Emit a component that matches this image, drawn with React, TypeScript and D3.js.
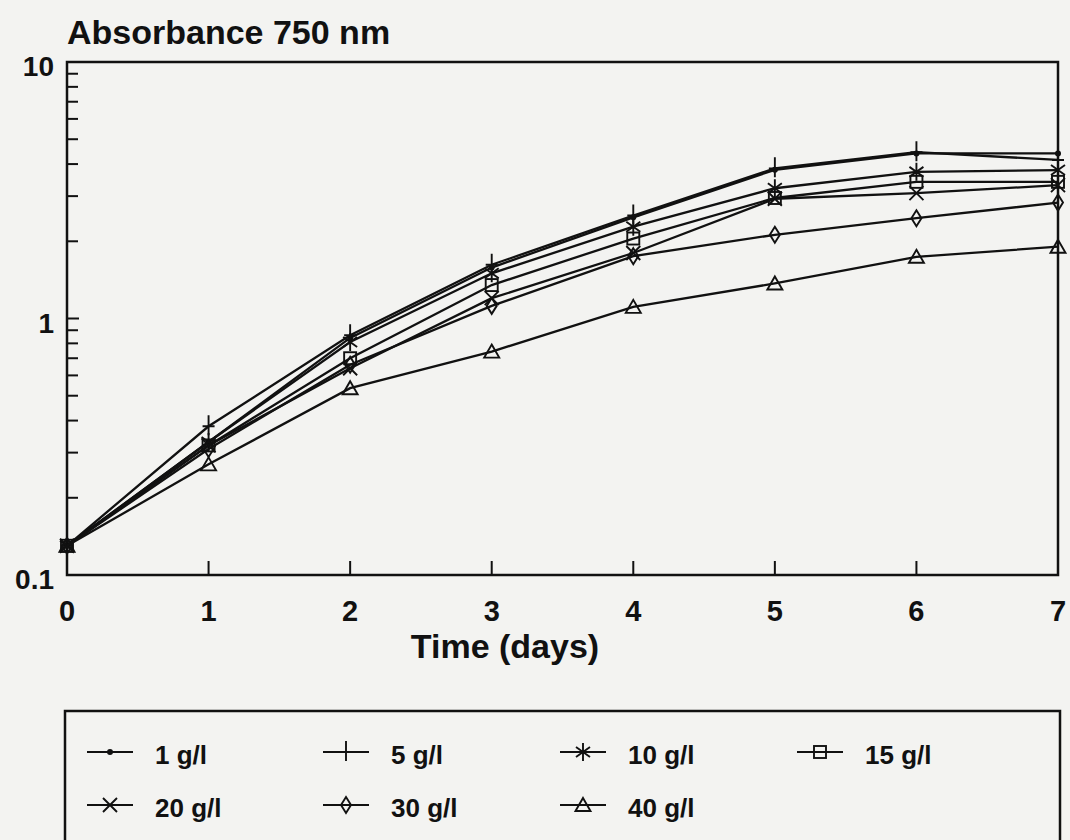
import React from "react";
import * as d3 from "d3";

const days = [0, 1, 2, 3, 4, 5, 6, 7];
const seriesNames = ["1 g/l", "5 g/l", "10 g/l", "15 g/l", "20 g/l", "30 g/l", "40 g/l"];
const s1 = [0.13, 0.33, 0.84, 1.58, 2.48, 3.8, 4.4, 4.4];
const s5 = [0.13, 0.38, 0.86, 1.62, 2.52, 3.85, 4.45, 4.15];
const s10 = [0.13, 0.33, 0.81, 1.5, 2.28, 3.22, 3.73, 3.79];
const s15 = [0.13, 0.32, 0.7, 1.35, 2.05, 2.95, 3.41, 3.41];
const s20 = [0.13, 0.32, 0.64, 1.2, 1.8, 2.93, 3.08, 3.31];
const s30 = [0.13, 0.31, 0.66, 1.12, 1.75, 2.12, 2.46, 2.83];
const s40 = [0.13, 0.27, 0.535, 0.743, 1.11, 1.37, 1.74, 1.905];
const seriesValues = [s1, s5, s10, s15, s20, s30, s40];
const markerKinds = ["dot", "plus", "asterisk", "square", "cross", "diamond", "triangle"];
const xTicks = [0, 1, 2, 3, 4, 5, 6, 7];
const yMajor = [0.1, 1, 10];
const yMajorLabels = ["0.1", "1", "10"];
const yMinor = [0.2, 0.3, 0.4, 0.5, 0.6, 0.7, 0.8, 0.9, 2, 3, 4, 5, 6, 7, 8, 9];

const FONT = "'Liberation Sans', Arial, Helvetica, sans-serif";

function Marker({ kind, x, y }: { kind: string; x: number; y: number }) {
  const common = { fill: "none", stroke: "#111", strokeWidth: 1.9 };
  const t = `translate(${x},${y})`;
  switch (kind) {
    case "dot":
      return <circle cx={x} cy={y} r={3} fill="#111" />;
    case "plus":
      return <path transform={t} d="M0,-11V9M-6,0H6" {...common} />;
    case "asterisk":
      return <path transform={t} d="M0,-9V9M-7,-5L7,5M-7,5L7,-5" {...common} />;
    case "square":
      return <rect x={x - 6} y={y - 6} width={12} height={12} {...common} />;
    case "cross":
      return <path transform={t} d="M-7,-7L7,7M-7,7L7,-7" {...common} />;
    case "diamond":
      return <path transform={t} d="M0,-8L5,0L0,8L-5,0Z" {...common} />;
    case "triangle":
      return <path transform={t} d="M0,-7L7.5,6H-7.5Z" {...common} />;
    default:
      return null;
  }
}

export default function App() {
  const W = 1070;
  const H = 840;
  const left = 67;
  const right = 1058;
  const top = 62;
  const bottom = 575;
  const x = d3.scaleLinear().domain([0, 7]).range([left, right]);
  const y = d3.scaleLog().domain([0.1, 10]).range([bottom, top]);
  const line = d3
    .line<number>()
    .x((_, i) => x(days[i]))
    .y((v) => y(v));

  const legendCols = [87, 323, 560, 797];
  const legendRows = [752, 805];

  return (
    <svg
      width={W}
      height={H}
      style={{ position: "absolute", left: 0, top: 0, background: "#f3f3f1" }}
      fontFamily={FONT}
    >
      <rect x={0} y={0} width={W} height={H} fill="#f3f3f1" />
      <text x={67} y={44} fontSize={34} fontWeight="bold" fill="#111">
        Absorbance 750 nm
      </text>
      <rect x={left} y={top} width={right - left} height={bottom - top} fill="none" stroke="#111" strokeWidth={2.5} />
      {yMajor.map((v, i) => (
        <g key={"ym" + i}>
          <line x1={left} x2={left + 12} y1={y(v)} y2={y(v)} stroke="#111" strokeWidth={2} />
          <text x={54} y={y(v) + 14} fontSize={28} fontWeight="bold" textAnchor="end" fill="#111">
            {yMajorLabels[i]}
          </text>
        </g>
      ))}
      {yMinor.map((v, i) => (
        <line key={"yn" + i} x1={left} x2={left + 11} y1={y(v)} y2={y(v)} stroke="#111" strokeWidth={2} />
      ))}
      {xTicks.map((d, i) => (
        <g key={"xt" + i}>
          {d > 0 && d < 7 && (
            <line x1={x(d)} x2={x(d)} y1={bottom} y2={bottom - 14} stroke="#111" strokeWidth={2} />
          )}
          <text x={x(d)} y={621} fontSize={29} fontWeight="bold" textAnchor="middle" fill="#111">
            {d}
          </text>
        </g>
      ))}
      <text x={505} y={658} fontSize={34} fontWeight="bold" textAnchor="middle" fill="#111">
        Time (days)
      </text>
      {seriesValues.map((vals, si) => (
        <g key={"s" + si}>
          <path d={line(vals) || ""} fill="none" stroke="#111" strokeWidth={2.3} />
          {vals.map((v, i) => (
            <Marker key={i} kind={markerKinds[si]} x={x(days[i])} y={y(v)} />
          ))}
        </g>
      ))}
      <rect x={65} y={711} width={995} height={160} fill="none" stroke="#111" strokeWidth={2.5} />
      {seriesNames.map((name, i) => {
        const cx = legendCols[i % 4];
        const cy = legendRows[Math.floor(i / 4)];
        return (
          <g key={"lg" + i}>
            <line x1={cx} x2={cx + 46} y1={cy} y2={cy} stroke="#111" strokeWidth={2} />
            <Marker kind={markerKinds[i]} x={cx + 23} y={cy} />
            <text x={cx + 68} y={cy + 12} fontSize={26} fontWeight="bold" fill="#111">
              {name}
            </text>
          </g>
        );
      })}
    </svg>
  );
}
